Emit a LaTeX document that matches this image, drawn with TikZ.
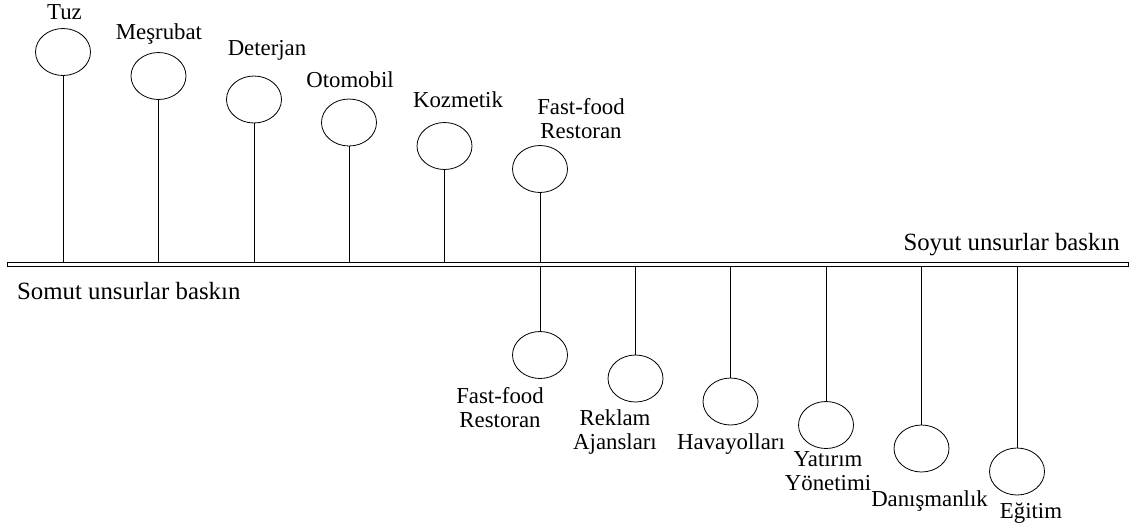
\documentclass[tikz,border=0pt]{standalone}
\usepackage{fontspec}
\setmainfont{Liberation Serif}
\usepackage{tikz}
\usetikzlibrary{shapes.geometric}
\tikzstyle{bub} = [draw, ellipse, minimum width=55pt, minimum height=47pt, inner sep=0pt, line width=0.8pt]
\tikzstyle{lbl} = [anchor=base, inner sep=0pt, align=center, font=\fontsize{22.8pt}{23.5pt}\selectfont]
\tikzstyle{side} = [anchor=base, inner sep=0pt, font=\fontsize{24.8pt}{26pt}\selectfont]
\tikzstyle{stem} = [line width=0.6pt]

\begin{document}
\begin{tikzpicture}[yscale=-1]
			\useasboundingbox (0pt,0pt) rectangle (1131pt,528pt);
			\node[draw, minimum width=1121pt, minimum height=4pt, inner sep=0pt, line width=0.6pt] (bar) at (567.5pt,264pt) {};
			\node[side, anchor=base west] (somut) at (17pt,299pt) {Somut unsurlar baskın};
			\node[side, anchor=base east] (soyut) at (1120pt,250pt) {Soyut unsurlar baskın};
			% somut taraf
			\node[bub] (tuz) at (63pt,52pt) {};
			\node[lbl] (tuzl) at (64.5pt,19pt) {Tuz};
			\node[bub] (mesrubat) at (158.5pt,76pt) {};
			\node[lbl] (mesrubatl) at (159pt,39pt) {Meşrubat};
			\node[bub] (deterjan) at (254pt,99.5pt) {};
			\node[lbl] (deterjanl) at (267pt,55pt) {Deterjan};
			\node[bub] (otomobil) at (349pt,122.5pt) {};
			\node[lbl] (otomobill) at (350pt,87pt) {Otomobil};
			\node[bub] (kozmetik) at (444.5pt,146pt) {};
			\node[lbl] (kozmetikl) at (458pt,107pt) {Kozmetik};
			\node[bub] (fastfoodu) at (540pt,169pt) {};
			\node[lbl] (fastfoodul) at (581pt,138pt) {Fast-food\\Restoran};
			\draw[stem] (tuz.south) -- (tuz.south |- bar.north);
			\draw[stem] (mesrubat.south) -- (mesrubat.south |- bar.north);
			\draw[stem] (deterjan.south) -- (deterjan.south |- bar.north);
			\draw[stem] (otomobil.south) -- (otomobil.south |- bar.north);
			\draw[stem] (kozmetik.south) -- (kozmetik.south |- bar.north);
			\draw[stem] (fastfoodu.south) -- (fastfoodu.south |- bar.north);
			% soyut taraf
			\node[bub] (fastfoodd) at (540pt,355pt) {};
			\node[lbl] (fastfooddl) at (500pt,427pt) {Fast-food\\Restoran};
			\node[bub] (reklam) at (635.5pt,378.5pt) {};
			\node[lbl] (reklaml) at (615pt,449pt) {Reklam\\Ajansları};
			\node[bub] (havayollari) at (730.5pt,401.5pt) {};
			\node[lbl] (havayollaril) at (731pt,449pt) {Havayolları};
			\node[bub] (yatirim) at (826pt,425pt) {};
			\node[lbl] (yatiriml) at (828pt,490pt) {Yatırım\\Yönetimi};
			\node[bub] (danisman) at (921.5pt,448.5pt) {};
			\node[lbl] (danismanl) at (929.5pt,506pt) {Danışmanlık};
			\node[bub] (egitim) at (1017pt,471.5pt) {};
			\node[lbl] (egitiml) at (1031pt,518pt) {Eğitim};
			\draw[stem] (bar.south -| fastfoodd.north) -- (fastfoodd.north);
			\draw[stem] (bar.south -| reklam.north) -- (reklam.north);
			\draw[stem] (bar.south -| havayollari.north) -- (havayollari.north);
			\draw[stem] (bar.south -| yatirim.north) -- (yatirim.north);
			\draw[stem] (bar.south -| danisman.north) -- (danisman.north);
			\draw[stem] (bar.south -| egitim.north) -- (egitim.north);
		\end{tikzpicture}
\end{document}
